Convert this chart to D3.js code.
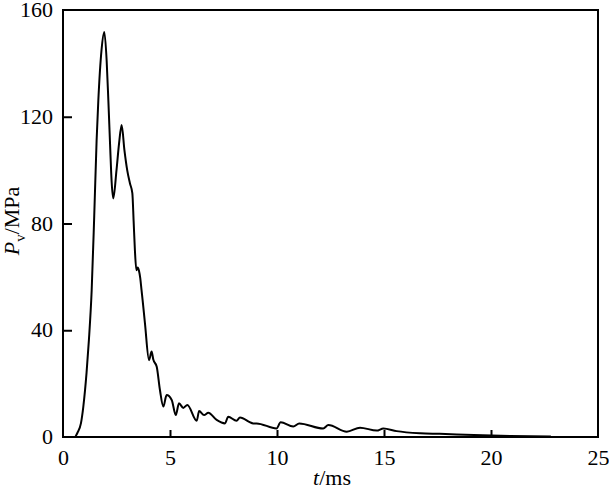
<!DOCTYPE html>
<html>
<head>
  <meta charset="utf-8">
  <title>Pv vs t</title>
  <style>
    body { margin: 0; background: #fff; }
  </style>
</head>
<body>
  <div class="area"></div>

  <script src="https://cdn.jsdelivr.net/npm/d3@7"></script>
  <script type="text/javascript">

  // pressure trace: time (ms) and Pv (MPa)
  var times = [0, 0.55, 0.67, 0.84, 0.95, 1.1, 1.21, 1.34, 1.46, 1.57, 1.65, 1.8, 1.93, 2.04, 2.12, 2.21, 2.27, 2.35,
    2.5, 2.62, 2.74, 2.87, 3.0, 3.13, 3.24, 3.3, 3.36, 3.43, 3.49, 3.55, 3.61, 3.67, 3.72, 3.83, 4.02, 4.14, 4.22,
    4.38, 4.53, 4.69, 4.84, 5.08, 5.27, 5.42, 5.62, 5.81, 6.25, 6.36, 6.59, 6.79, 7.18, 7.57, 7.72, 8.11, 8.27,
    8.89, 9.05, 9.98, 10.17, 10.76, 11.04, 12.16, 12.4, 13.26, 13.88, 14.66, 14.97, 15.59, 16.7, 17.6, 19.2,
    20.9, 22.8];
  var pv = [0, 0, 1.5, 5.2, 11.4, 24, 36.3, 55, 83, 111, 126, 145, 151.8, 141, 126, 107.5, 96, 89.4,
    100, 110, 116.9, 107.5, 100, 95, 91.4, 81, 70, 62.5, 63.5, 62.3, 59.5, 55, 51.3, 42.6, 28.8, 32, 29,
    26.3, 17.6, 11.4, 15.7, 13.9, 8.2, 12.6, 10.9, 12, 6.1, 9.7, 8.2, 9.1, 6.4, 5.1, 7.6, 6.1, 7.3,
    5.1, 5.1, 3.2, 5.5, 3.9, 5.1, 3.2, 4.5, 2.0, 3.5, 2.4, 3.2, 2.2, 1.4, 1.2, 0.75,
    0.4, 0.15];

  var xTicks = [0, 5, 10, 15, 20, 25];
  var yTicks = [0, 40, 80, 120, 160];

  var w = 609, h = 491;
  var margin = {left: 63, right: 11, top: 10, bottom: 54};
  var font = '"Liberation Serif", "Times New Roman", Times, serif';

  var svg = d3.select('.area')
    .append('svg')
    .attr('width', w)
    .attr('height', h);

  var x = d3.scaleLinear().domain([0, 25]).range([margin.left, w - margin.right]);
  var y = d3.scaleLinear().domain([0, 160]).range([h - margin.bottom, margin.top]);

  // frame
  svg.append('rect')
    .attr('x', x(0)).attr('y', y(160))
    .attr('width', x(25) - x(0)).attr('height', y(0) - y(160))
    .attr('fill', 'none').attr('stroke', '#000').attr('stroke-width', 2);

  // x axis, ticks point inward
  var xAxis = d3.axisBottom(x).tickValues(xTicks).tickSize(-7).tickPadding(12).tickFormat(d3.format('d'));
  var gx = svg.append('g').attr('transform', 'translate(0,' + y(0) + ')').call(xAxis)
    .attr('font-family', font).attr('font-size', 22);
  gx.select('.domain').remove();
  gx.selectAll('.tick line').attr('stroke-width', 2)
    .filter(function(d){ return d === 0 || d === 25; }).remove();
  gx.selectAll('text').attr('fill', '#000');

  // y axis
  var yAxis = d3.axisLeft(y).tickValues(yTicks).tickSize(-9).tickPadding(10).tickFormat(d3.format('d'));
  var gy = svg.append('g').attr('transform', 'translate(' + x(0) + ',0)').call(yAxis)
    .attr('font-family', font).attr('font-size', 22);
  gy.select('.domain').remove();
  gy.selectAll('.tick line').attr('stroke-width', 2)
    .filter(function(d){ return d === 0 || d === 160; }).remove();
  gy.selectAll('text').attr('fill', '#000').attr('dy', '0.3em');

  // curve
  var pts = times.map(function(t, i){ return [t, pv[i]]; });
  svg.append('path')
    .datum(pts)
    .attr('fill', 'none')
    .attr('stroke', '#000')
    .attr('stroke-width', 2)
    .attr('stroke-linejoin', 'round')
    .attr('d', d3.line().curve(d3.curveMonotoneX)
      .x(function(d){ return x(d[0]); }).y(function(d){ return y(d[1]); }));

  // axis titles
  var xt = svg.append('text')
    .attr('x', 332).attr('y', 485)
    .attr('font-family', font)
    .attr('text-anchor', 'middle').attr('font-size', 22);
  xt.append('tspan').attr('font-style', 'italic').text('t');
  xt.append('tspan').text('/ms');

  var yt = svg.append('text')
    .attr('transform', 'translate(19,221) rotate(-90)')
    .attr('font-family', font)
    .attr('text-anchor', 'middle').attr('font-size', 22);
  yt.append('tspan').attr('font-style', 'italic').text('P');
  yt.append('tspan').attr('font-size', 15).attr('dy', 6).text('v');
  yt.append('tspan').attr('dy', -6).text('/MPa');

  </script>
</body>
</html>
